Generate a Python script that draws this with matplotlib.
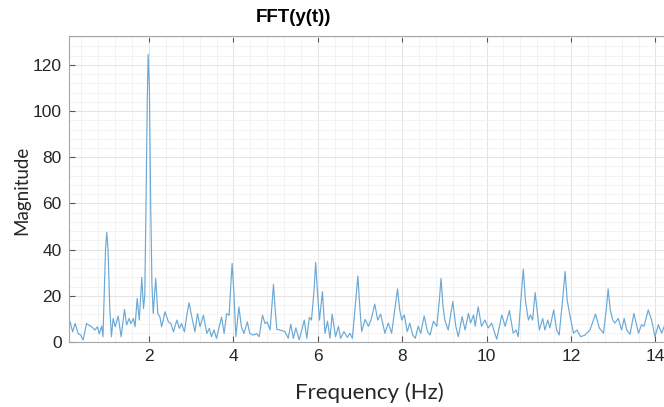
import matplotlib.pyplot as plt
from matplotlib.ticker import MultipleLocator

# dados
freq = [0.10, 0.13, 0.19, 0.25, 0.32, 0.38, 0.44, 0.52, 0.58, 0.64, 0.72, 0.78, 0.82, 0.88, 0.91,
        0.93, 0.97, 1.00, 1.03, 1.07, 1.11, 1.15, 1.20, 1.27, 1.34, 1.42, 1.47, 1.53, 1.57, 1.63,
        1.67, 1.72, 1.77, 1.83, 1.87, 1.90, 1.93, 1.96, 1.98, 2.01, 2.04, 2.07, 2.10, 2.16, 2.21,
        2.26, 2.30, 2.38, 2.46, 2.52, 2.58, 2.66, 2.72, 2.77, 2.84, 2.90, 2.95, 3.03, 3.09, 3.15,
        3.21, 3.29, 3.37, 3.43, 3.48, 3.54, 3.60, 3.72, 3.78, 3.84, 3.90, 3.93, 3.97, 4.01, 4.06,
        4.13, 4.19, 4.25, 4.33, 4.39, 4.47, 4.55, 4.61, 4.69, 4.75, 4.80, 4.87, 4.91, 4.95, 4.99,
        5.03, 5.10, 5.22, 5.30, 5.36, 5.42, 5.48, 5.56, 5.68, 5.74, 5.80, 5.85, 5.91, 5.95, 5.99,
        6.04, 6.11, 6.17, 6.23, 6.29, 6.34, 6.42, 6.49, 6.54, 6.62, 6.70, 6.76, 6.82, 6.90, 6.95,
        7.00, 7.04, 7.12, 7.20, 7.26, 7.35, 7.42, 7.49, 7.59, 7.67, 7.75, 7.84, 7.89, 7.94, 7.99,
        8.05, 8.12, 8.18, 8.25, 8.31, 8.38, 8.44, 8.52, 8.60, 8.66, 8.74, 8.82, 8.88, 8.92, 8.97,
        9.01, 9.09, 9.20, 9.27, 9.33, 9.42, 9.49, 9.57, 9.62, 9.69, 9.73, 9.80, 9.88, 9.96, 10.04,
        10.12, 10.24, 10.36, 10.44, 10.54, 10.63, 10.70, 10.75, 10.82, 10.87, 10.92, 10.99, 11.04, 11.09, 11.15,
        11.25, 11.33, 11.38, 11.45, 11.50, 11.59, 11.66, 11.72, 11.81, 11.86, 11.91, 11.98, 12.06, 12.14, 12.23,
        12.33, 12.45, 12.58, 12.67, 12.77, 12.84, 12.88, 12.93, 12.99, 13.04, 13.12, 13.20, 13.26, 13.32, 13.40,
        13.49, 13.60, 13.67, 13.73, 13.83, 13.91, 13.99, 14.07, 14.15, 14.21, 14.30]
mag = [8.5, 8.8, 4.4, 8.0, 3.7, 3.0, 0.9, 8.0, 7.2, 6.6, 5.2, 6.6, 3.5, 6.9, 2.3,
       15, 40, 47.5, 40, 15, 2.3, 10.2, 6.6, 11.2, 2.3, 14.1, 7.4, 10.2, 8.0, 10.2,
       6.6, 18.9, 9.5, 27.9, 14.5, 20, 60, 105, 124.5, 110, 60, 25, 12.3, 27.5, 12.3,
       10.8, 6.6, 13.1, 8.7, 8.0, 4.4, 9.5, 5.9, 8.0, 4.4, 12, 17.0, 9.5, 4.4, 12.3,
       6.6, 11.6, 3.7, 5.9, 2.3, 5.2, 1.6, 10.8, 3.7, 12.3, 11.6, 22, 34.0, 22, 2.3,
       15.2, 6.6, 3.7, 8.7, 3.7, 3.0, 3.7, 2.3, 11.6, 8.0, 8.7, 5.2, 15, 25.0, 14,
       5.5, 5.2, 4.5, 1.6, 7.7, 1.6, 6.1, 0.9, 9.5, 1.6, 10.7, 9.5, 22, 34.5, 22,
       9.5, 21.8, 3.8, 9.0, 1.6, 12.1, 2.3, 6.8, 1.6, 4.5, 2.0, 3.8, 1.6, 18, 28.5,
       14, 4.5, 9.8, 6.8, 9.5, 16.4, 9.5, 12.1, 3.8, 8.2, 3.8, 16, 23.0, 14, 9.5,
       11.7, 4.5, 8.2, 3.0, 1.6, 6.8, 3.8, 11.3, 4.5, 3.0, 9.0, 6.8, 18, 27.5, 15,
       9.5, 5.2, 17.5, 6.8, 2.3, 11.0, 5.2, 12.4, 8.2, 11.7, 6.8, 15.2, 6.8, 9.5, 6.1,
       8.2, 1.2, 11.7, 6.8, 13.6, 3.8, 5.2, 2.3, 20, 31.5, 18, 9.5, 11.7, 9.5, 21.4,
       5.2, 10.2, 5.2, 9.5, 6.1, 13.9, 5.2, 3.0, 20, 30.5, 18, 11, 3.8, 5.2, 2.3,
       3.0, 5.2, 12.1, 6.1, 3.8, 15, 23.0, 14, 9.5, 8.2, 10.2, 5.2, 10.2, 5.2, 3.4,
       12.4, 3.8, 7.5, 6.8, 13.9, 9.5, 2.3, 7.5, 3.8, 6.8, 4.0]

fig = plt.figure(figsize=(6.64, 4.07), dpi=100)
# eixo passa da borda direita (imagem original cortada)
ax = fig.add_axes([68.8 / 664, 65 / 407, 628.8 / 664, 306 / 407])
ax.plot(freq, mag, color='#6aa9d6', linewidth=0.85)

ax.set_xlim(0.1, 15)
ax.set_ylim(0, 132.5)
ax.xaxis.set_major_locator(MultipleLocator(2))
ax.xaxis.set_minor_locator(MultipleLocator(0.4))
ax.yaxis.set_major_locator(MultipleLocator(20))
ax.yaxis.set_minor_locator(MultipleLocator(4))
ax.grid(which='major', color='#e3e3e3', linewidth=0.7)
ax.grid(which='minor', color='#f1f1f1', linewidth=0.6)
ax.set_axisbelow(True)
ax.tick_params(which='major', direction='in', top=True, right=True, length=4,
               color='#555555', labelsize=12.5, labelcolor='#262626', pad=5)
ax.tick_params(which='minor', length=0)
for lab in ax.get_xticklabels() + ax.get_yticklabels():
    lab.set_family('Liberation Sans')
for s in ax.spines.values():
    s.set_color('#a6a6a6')
    s.set_linewidth(0.8)

fig.text(293 / 664, 1 - 17 / 407, 'FFT(y(t))', ha='center', va='center',
         fontsize=13.5, fontweight='bold', family='Liberation Sans')
fig.text(369 / 664, 1 - 393 / 407, 'Frequency (Hz)', ha='center', va='center',
         fontsize=16, family='Lato', color='#262626')
fig.text(22 / 664, 1 - 190 / 407, 'Magnitude', ha='center', va='center', rotation=90,
         fontsize=13.5, family='Lato', color='#262626')

fig.savefig('out.png', dpi=100)
